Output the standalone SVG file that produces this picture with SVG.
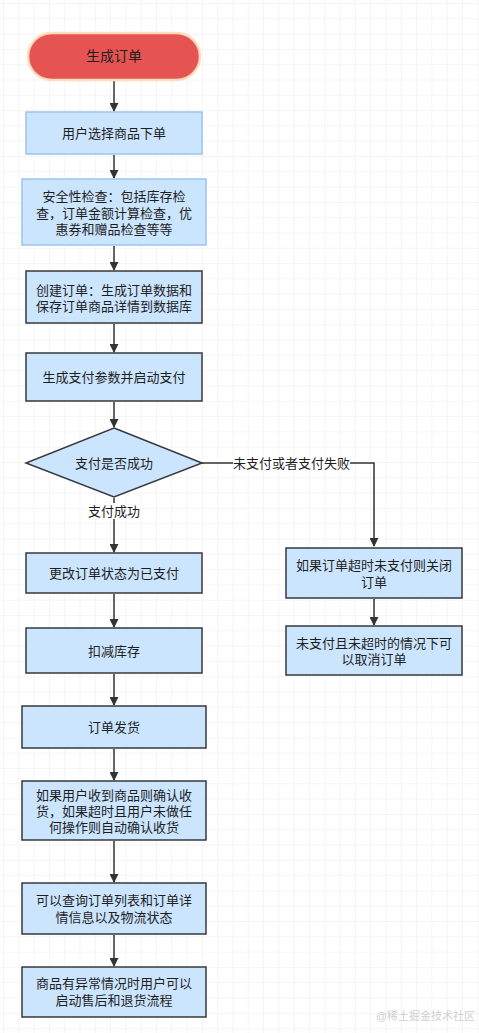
<svg xmlns="http://www.w3.org/2000/svg" width="479" height="1033" viewBox="0 0 479 1033">
<defs>
<pattern id="grid" x="3" y="3" width="15.3" height="15.3" patternUnits="userSpaceOnUse">
<path d="M0 0H15.3M0 0V15.3" fill="none" stroke="#ebebeb" stroke-width="1"/>
</pattern>
<marker id="arr" viewBox="0 0 10 10" refX="9" refY="5" markerWidth="9" markerHeight="9" markerUnits="userSpaceOnUse" orient="auto">
<path d="M0 0L10 5L0 10Z" fill="#333"/>
</marker>
<style>
.box{fill:#cce5ff;stroke:#36393d;stroke-width:1.5}
.lbox{fill:#cce5ff;stroke:#99c3f0;stroke-width:1.5}
.t{font-family:"Liberation Sans","Noto Sans CJK SC",sans-serif;font-size:13px;fill:#1e1e1e;text-anchor:middle;dominant-baseline:central}
.c{fill:none;stroke:#333;stroke-width:1.5;marker-end:url(#arr)}
.lbl{fill:#fff}
</style>
</defs>
<rect width="479" height="1033" fill="#fff"/>
<rect width="479" height="1033" fill="url(#grid)"/>
<g id="connectors">
<path class="c" d="M114 81V111"/>
<path class="c" d="M114 155V178"/>
<path class="c" d="M114 246V270"/>
<path class="c" d="M114 324V352"/>
<path class="c" d="M114 402V427"/>
<path class="c" d="M114 498V552"/>
<path class="c" d="M202 463H374V546"/>
<path class="c" d="M374 599V625"/>
<path class="c" d="M114 594V627"/>
<path class="c" d="M114 674V705"/>
<path class="c" d="M114 749V780"/>
<path class="c" d="M114 841V882"/>
<path class="c" d="M114 935V966"/>
<rect class="lbl" x="86" y="503" width="56" height="16"/>
<text class="t" x="114" y="511">支付成功</text>
<rect class="lbl" x="233" y="455" width="117" height="16"/>
<text class="t" x="291.5" y="463">未支付或者支付失败</text>
</g>
<g id="start">
<rect x="28" y="33" width="172" height="47" rx="23.5" fill="#e65353" stroke="#ffdcc0" stroke-width="2.5"/>
<text class="t" x="114" y="56" style="font-size:14px">生成订单</text>
</g>
<g id="n1">
<rect class="lbox" x="26" y="112" width="176" height="42"/>
<text class="t" x="114" y="133">用户选择商品下单</text>
</g>
<g id="n2">
<rect class="lbox" x="22" y="179" width="184" height="66"/>
<text class="t"><tspan x="114" y="196">安全性检查：包括库存检</tspan><tspan x="114" y="212.5">查，订单金额计算检查，优</tspan><tspan x="114" y="229">惠券和赠品检查等等</tspan></text>
</g>
<g id="n3">
<rect class="box" x="26" y="271" width="176" height="52"/>
<text class="t"><tspan x="114" y="290">创建订单：生成订单数据和</tspan><tspan x="114" y="306">保存订单商品详情到数据库</tspan></text>
</g>
<g id="n4">
<rect class="box" x="26" y="353" width="176" height="48"/>
<text class="t" x="114" y="377">生成支付参数并启动支付</text>
</g>
<g id="decision">
<path d="M114 428L202 463L114 497L26 463Z" fill="#cce5ff" stroke="#36393d" stroke-width="1.5"/>
<text class="t" x="114" y="463">支付是否成功</text>
</g>
<g id="n5">
<rect class="box" x="26" y="553" width="176" height="40"/>
<text class="t" x="114" y="573">更改订单状态为已支付</text>
</g>
<g id="r1">
<rect class="box" x="286" y="548" width="176" height="50"/>
<text class="t"><tspan x="374" y="565">如果订单超时未支付则关闭</tspan><tspan x="374" y="582">订单</tspan></text>
</g>
<g id="r2">
<rect class="box" x="286" y="626" width="176" height="49"/>
<text class="t"><tspan x="374" y="643">未支付且未超时的情况下可</tspan><tspan x="374" y="659">以取消订单</tspan></text>
</g>
<g id="n6">
<rect class="box" x="26" y="628" width="176" height="45"/>
<text class="t" x="114" y="651">扣减库存</text>
</g>
<g id="n7">
<rect class="box" x="22" y="706" width="184" height="42"/>
<text class="t" x="114" y="727">订单发货</text>
</g>
<g id="n8">
<rect class="box" x="22" y="781" width="184" height="59"/>
<text class="t"><tspan x="114" y="795">如果用户收到商品则确认收</tspan><tspan x="114" y="811">货，如果超时且用户未做任</tspan><tspan x="114" y="827">何操作则自动确认收货</tspan></text>
</g>
<g id="n9">
<rect class="box" x="22" y="883" width="184" height="51"/>
<text class="t"><tspan x="114" y="900">可以查询订单列表和订单详</tspan><tspan x="114" y="917">情信息以及物流状态</tspan></text>
</g>
<g id="n10">
<rect class="box" x="22" y="967" width="184" height="50"/>
<text class="t"><tspan x="114" y="983">商品有异常情况时用户可以</tspan><tspan x="114" y="1000">启动售后和退货流程</tspan></text>
</g>
<text x="475" y="1020" style="font-family:'Liberation Sans','Noto Sans CJK SC',sans-serif;font-size:11px;fill:#d0d0d0;text-anchor:end">@稀土掘金技术社区</text>
</svg>
